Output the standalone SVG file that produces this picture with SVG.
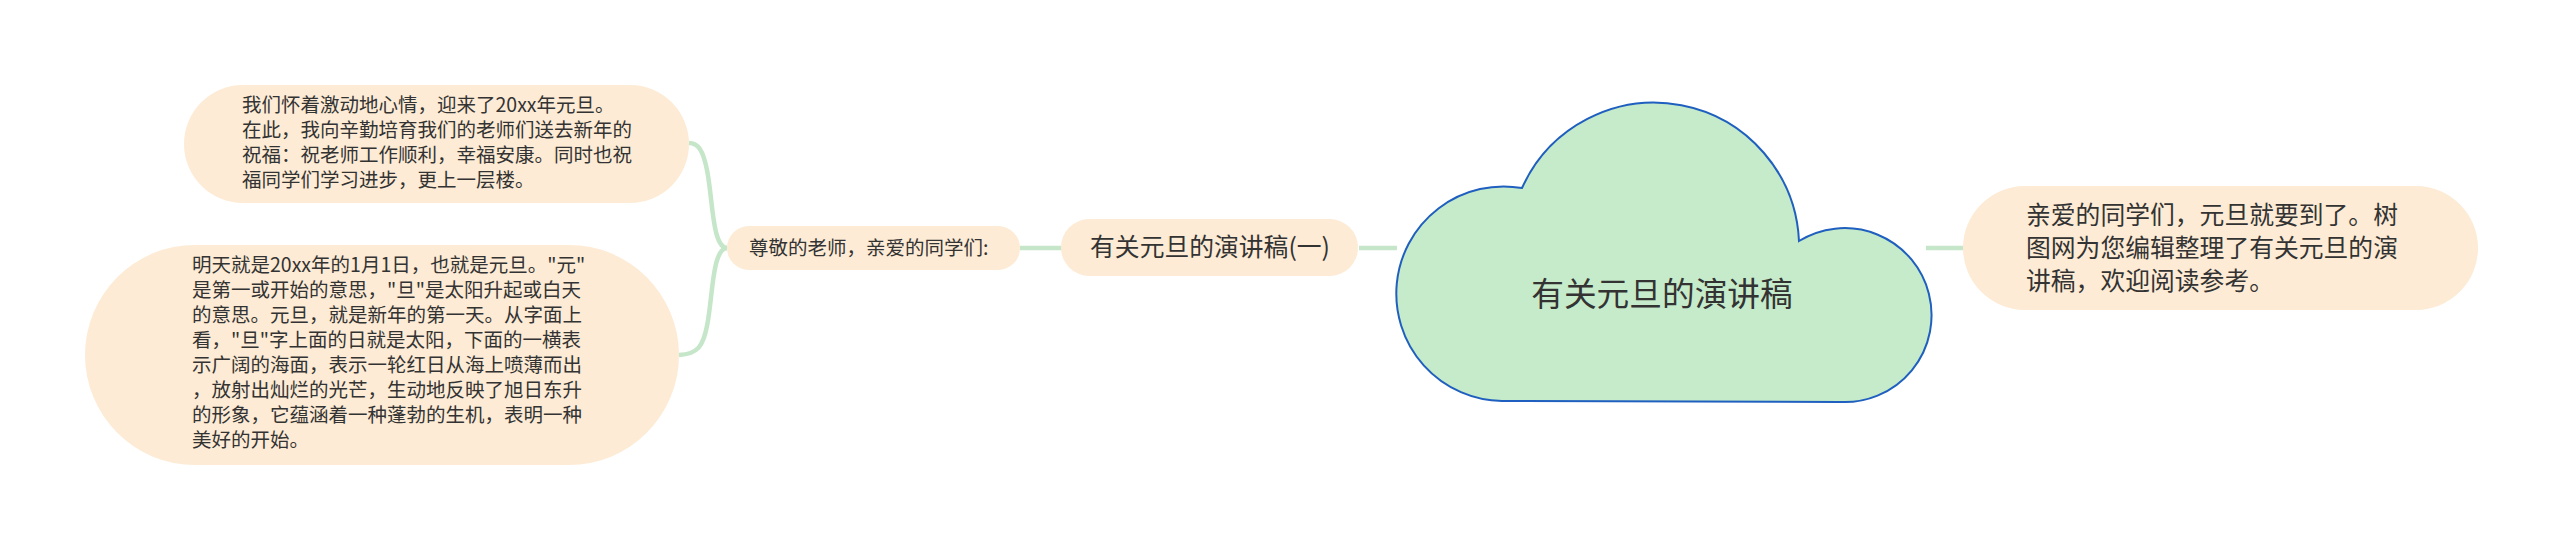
<svg xmlns="http://www.w3.org/2000/svg" width="2560" height="547" viewBox="0 0 2560 547">
<style>
.bub{fill:#fdebd5}
.t{font-family:"Noto Sans CJK SC","Noto Sans",sans-serif;fill:#333}
.leaf{font-size:19.5px}
.sub{font-size:24.8px}
.main{font-size:32.7px}
.conn{fill:none;stroke:#c5e6c9;stroke-width:4.5}
</style>
<rect width="2560" height="547" fill="#ffffff"/>
<g id="connectors">
<line class="conn" x1="1359" y1="248" x2="1397" y2="248"/>
<line class="conn" x1="1926" y1="248" x2="1964" y2="248"/>
<line class="conn" x1="1020" y1="248" x2="1062" y2="248"/>
<path class="conn" d="M727 248 C712 247 713 200 707 170 C703 150 698 143 689 143"/>
<path class="conn" d="M727 248 C712 249 713 296 707 326 C703 346 698 354 679 355"/>
</g>
<g id="center">
<path d="M1522 188 A145 145 0 0 1 1799 241 A87 87 0 1 1 1840 402 L1502 401 A107.3 107.3 0 1 1 1522 188 Z" fill="#c6ebca" stroke="#1f5fbf" stroke-width="2"/>
<text class="t main" x="1662" y="306" text-anchor="middle">有关元旦的演讲稿</text>
</g>
<g id="n-sub">
<rect class="bub" x="1061" y="219" width="297" height="57" rx="28.5"/>
<text class="t sub" x="1210" y="256" text-anchor="middle">有关元旦的演讲稿(一)</text>
</g>
<g id="n-greet">
<rect class="bub" x="727" y="226" width="293" height="44" rx="22"/>
<text class="t leaf" x="749" y="255">尊敬的老师，亲爱的同学们:</text>
</g>
<g id="n-leaf1">
<rect class="bub" x="184" y="85" width="505" height="118" rx="59"/>
<text class="t leaf">
<tspan x="242" y="112">我们怀着激动地心情，迎来了20xx年元旦。</tspan>
<tspan x="242" y="137">在此，我向辛勤培育我们的老师们送去新年的</tspan>
<tspan x="242" y="162">祝福：祝老师工作顺利，幸福安康。同时也祝</tspan>
<tspan x="242" y="187">福同学们学习进步，更上一层楼。</tspan>
</text>
</g>
<g id="n-leaf2">
<rect class="bub" x="85" y="245" width="594" height="220" rx="110"/>
<text class="t leaf">
<tspan x="192" y="272">明天就是20xx年的1月1日，也就是元旦。"元"</tspan>
<tspan x="192" y="297">是第一或开始的意思，"旦"是太阳升起或白天</tspan>
<tspan x="192" y="322">的意思。元旦，就是新年的第一天。从字面上</tspan>
<tspan x="192" y="347">看，"旦"字上面的日就是太阳，下面的一横表</tspan>
<tspan x="192" y="372">示广阔的海面，表示一轮红日从海上喷薄而出</tspan>
<tspan x="192" y="397">，放射出灿烂的光芒，生动地反映了旭日东升</tspan>
<tspan x="192" y="422">的形象，它蕴涵着一种蓬勃的生机，表明一种</tspan>
<tspan x="192" y="447">美好的开始。</tspan>
</text>
</g>
<g id="n-right">
<rect class="bub" x="1963" y="186" width="515" height="124" rx="62"/>
<text class="t sub">
<tspan x="2026" y="224">亲爱的同学们，元旦就要到了。树</tspan>
<tspan x="2026" y="257">图网为您编辑整理了有关元旦的演</tspan>
<tspan x="2026" y="290">讲稿，欢迎阅读参考。</tspan>
</text>
</g>
</svg>
